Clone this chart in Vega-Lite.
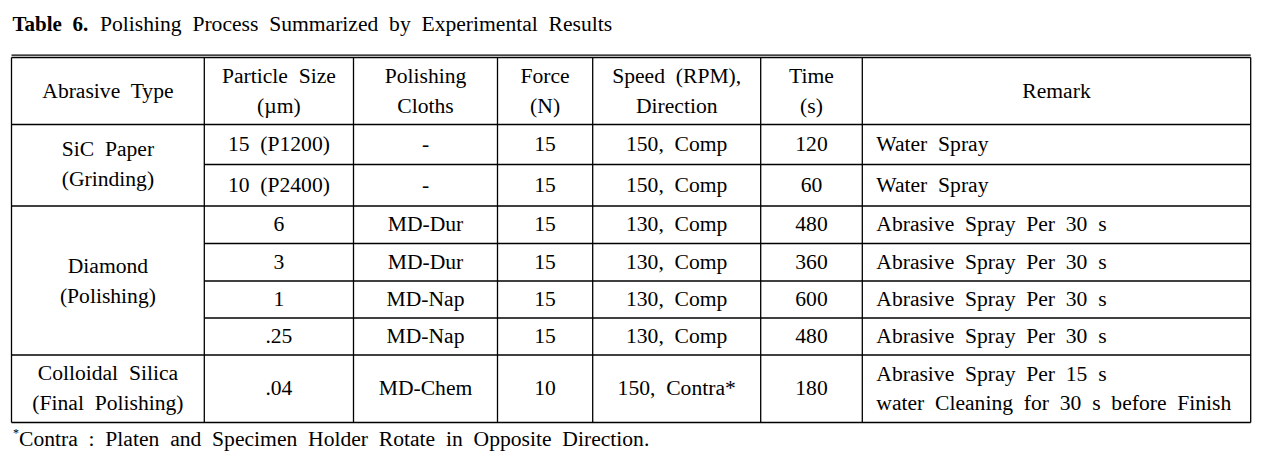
{
  "$schema": "https://vega.github.io/schema/vega-lite/v6.json",
  "width": 1264,
  "height": 464,
  "padding": 0,
  "autosize": {"type": "fit", "contains": "padding"},
  "background": "#ffffff",
  "config": {"view": {"stroke": null}, "text": {"font": "Liberation Serif", "fontSize": 21.6, "color": "#000000"}},
  "datasets": {
    "lines": [
      {"col": 0, "col2": 7, "row": -0.038, "row2": -0.038},
      {"col": 0, "col2": 7, "row": 0, "row2": 0},
      {"col": 0, "col2": 7, "row": 1, "row2": 1},
      {"col": 1, "col2": 7, "row": 2, "row2": 2},
      {"col": 0, "col2": 7, "row": 3, "row2": 3},
      {"col": 1, "col2": 7, "row": 4, "row2": 4},
      {"col": 1, "col2": 7, "row": 5, "row2": 5},
      {"col": 1, "col2": 7, "row": 6, "row2": 6},
      {"col": 0, "col2": 7, "row": 7, "row2": 7},
      {"col": 0, "col2": 7, "row": 8, "row2": 8},
      {"col": 0, "col2": 0, "row": 0, "row2": 8},
      {"col": 1, "col2": 1, "row": 0, "row2": 8},
      {"col": 2, "col2": 2, "row": 0, "row2": 8},
      {"col": 3, "col2": 3, "row": 0, "row2": 8},
      {"col": 4, "col2": 4, "row": 0, "row2": 8},
      {"col": 5, "col2": 5, "row": 0, "row2": 8},
      {"col": 6, "col2": 6, "row": 0, "row2": 8},
      {"col": 7, "col2": 7, "row": 0, "row2": 8}
    ],
    "cells2": [
      {"col": 1.5, "row": 0.5, "label": "Particle\u00a0 Size\n(µm)"},
      {"col": 2.5, "row": 0.5, "label": "Polishing\nCloths"},
      {"col": 3.5, "row": 0.5, "label": "Force\n(N)"},
      {"col": 4.5, "row": 0.5, "label": "Speed\u00a0 (RPM),\nDirection"},
      {"col": 5.5, "row": 0.5, "label": "Time\n(s)"},
      {"col": 0.5, "row": 2, "label": "SiC\u00a0 Paper\n(Grinding)"},
      {"col": 0.5, "row": 5, "label": "Diamond\n(Polishing)"},
      {"col": 0.5, "row": 7.5, "label": "Colloidal\u00a0 Silica\n(Final\u00a0 Polishing)"}
    ],
    "cells": [
      {"col": 0.5, "row": 0.5, "label": "Abrasive\u00a0 Type"},
      {"col": 6.5, "row": 0.5, "label": "Remark"},
      {"col": 1.5, "row": 1.5, "label": "15\u00a0 (P1200)"},
      {"col": 2.5, "row": 1.5, "label": "-"},
      {"col": 3.5, "row": 1.5, "label": "15"},
      {"col": 4.5, "row": 1.5, "label": "150,\u00a0 Comp"},
      {"col": 5.5, "row": 1.5, "label": "120"},
      {"col": 1.5, "row": 2.5, "label": "10\u00a0 (P2400)"},
      {"col": 2.5, "row": 2.5, "label": "-"},
      {"col": 3.5, "row": 2.5, "label": "15"},
      {"col": 4.5, "row": 2.5, "label": "150,\u00a0 Comp"},
      {"col": 5.5, "row": 2.5, "label": "60"},
      {"col": 1.5, "row": 3.5, "label": "6"},
      {"col": 2.5, "row": 3.5, "label": "MD-Dur"},
      {"col": 3.5, "row": 3.5, "label": "15"},
      {"col": 4.5, "row": 3.5, "label": "130,\u00a0 Comp"},
      {"col": 5.5, "row": 3.5, "label": "480"},
      {"col": 1.5, "row": 4.5, "label": "3"},
      {"col": 2.5, "row": 4.5, "label": "MD-Dur"},
      {"col": 3.5, "row": 4.5, "label": "15"},
      {"col": 4.5, "row": 4.5, "label": "130,\u00a0 Comp"},
      {"col": 5.5, "row": 4.5, "label": "360"},
      {"col": 1.5, "row": 5.5, "label": "1"},
      {"col": 2.5, "row": 5.5, "label": "MD-Nap"},
      {"col": 3.5, "row": 5.5, "label": "15"},
      {"col": 4.5, "row": 5.5, "label": "130,\u00a0 Comp"},
      {"col": 5.5, "row": 5.5, "label": "600"},
      {"col": 1.5, "row": 6.5, "label": ".25"},
      {"col": 2.5, "row": 6.5, "label": "MD-Nap"},
      {"col": 3.5, "row": 6.5, "label": "15"},
      {"col": 4.5, "row": 6.5, "label": "130,\u00a0 Comp"},
      {"col": 5.5, "row": 6.5, "label": "480"},
      {"col": 1.5, "row": 7.5, "label": ".04"},
      {"col": 2.5, "row": 7.5, "label": "MD-Chem"},
      {"col": 3.5, "row": 7.5, "label": "10"},
      {"col": 4.5, "row": 7.5, "label": "150,\u00a0 Contra*"},
      {"col": 5.5, "row": 7.5, "label": "180"}
    ],
    "remarks": [
      {"col": 6, "row": 1.5, "label": "Water\u00a0 Spray"},
      {"col": 6, "row": 2.5, "label": "Water\u00a0 Spray"},
      {"col": 6, "row": 3.5, "label": "Abrasive\u00a0 Spray\u00a0 Per\u00a0 30\u00a0 s"},
      {"col": 6, "row": 4.5, "label": "Abrasive\u00a0 Spray\u00a0 Per\u00a0 30\u00a0 s"},
      {"col": 6, "row": 5.5, "label": "Abrasive\u00a0 Spray\u00a0 Per\u00a0 30\u00a0 s"},
      {"col": 6, "row": 6.5, "label": "Abrasive\u00a0 Spray\u00a0 Per\u00a0 30\u00a0 s"}
    ],
    "remarks2": [
      {"col": 6, "row": 7.5, "label": "Abrasive\u00a0 Spray\u00a0 Per\u00a0 15\u00a0 s\nwater\u00a0 Cleaning\u00a0 for\u00a0 30\u00a0 s\u00a0 before\u00a0 Finish"}
    ],
    "titleBold": [{"col": 0, "row": -0.5, "label": "Table\u00a0 6."}],
    "titleRest": [{"col": 0, "row": -0.5, "label": "Polishing\u00a0 Process\u00a0 Summarized\u00a0 by\u00a0 Experimental\u00a0 Results"}],
    "footStar": [{"col": 0, "row": 8.5, "label": "*"}],
    "footText": [{"col": 0, "row": 8.5, "label": "Contra\u00a0 :\u00a0 Platen\u00a0 and\u00a0 Specimen\u00a0 Holder\u00a0 Rotate\u00a0 in\u00a0 Opposite\u00a0 Direction."}]
  },
  "encoding": {
    "x": {"field": "col", "type": "quantitative", "axis": null,
      "scale": {"domain": [0, 1, 2, 3, 4, 5, 6, 7], "range": [11.5, 204.3, 353.5, 497.5, 592.7, 760.7, 862.3, 1250.7], "zero": false, "nice": false}},
    "y": {"field": "row", "type": "quantitative", "axis": null,
      "scale": {"domain": [-1, 0, 1, 2, 3, 4, 5, 6, 7, 8, 9], "range": [-7.5, 57.5, 124.5, 164.5, 206, 243.5, 281, 318, 355, 422.5, 457.5], "zero": false, "nice": false}}
  },
  "layer": [
    {
      "data": {"name": "lines"},
      "mark": {"type": "rule", "color": "#000000", "strokeWidth": 1.3},
      "encoding": {"x2": {"field": "col2"}, "y2": {"field": "row2"}}
    },
    {
      "data": {"name": "cells"},
      "mark": {"type": "text", "align": "center", "baseline": "middle", "dy": 0.5},
      "encoding": {"text": {"field": "label"}}
    },
    {
      "data": {"name": "cells2"},
      "mark": {"type": "text", "align": "center", "baseline": "middle", "lineBreak": "\n", "lineHeight": 30, "dy": -14.5},
      "encoding": {"text": {"field": "label"}}
    },
    {
      "data": {"name": "remarks"},
      "mark": {"type": "text", "align": "left", "baseline": "middle", "dx": 14, "dy": 0.5},
      "encoding": {"text": {"field": "label"}}
    },
    {
      "data": {"name": "remarks2"},
      "mark": {"type": "text", "align": "left", "baseline": "middle", "lineBreak": "\n", "lineHeight": 29, "dx": 14, "dy": -14},
      "encoding": {"text": {"field": "label"}}
    },
    {
      "data": {"name": "titleBold"},
      "mark": {"type": "text", "align": "left", "baseline": "middle", "dx": 1, "fontSize": 21, "fontWeight": "bold"},
      "encoding": {"text": {"field": "label"}}
    },
    {
      "data": {"name": "titleRest"},
      "mark": {"type": "text", "align": "left", "baseline": "middle", "dx": 88.5, "fontSize": 21.6},
      "encoding": {"text": {"field": "label"}}
    },
    {
      "data": {"name": "footStar"},
      "mark": {"type": "text", "align": "left", "baseline": "middle", "dx": 1.5, "dy": -7, "fontSize": 12},
      "encoding": {"text": {"field": "label"}}
    },
    {
      "data": {"name": "footText"},
      "mark": {"type": "text", "align": "left", "baseline": "middle", "dx": 7.5, "fontSize": 21.6},
      "encoding": {"text": {"field": "label"}}
    }
  ]
}
